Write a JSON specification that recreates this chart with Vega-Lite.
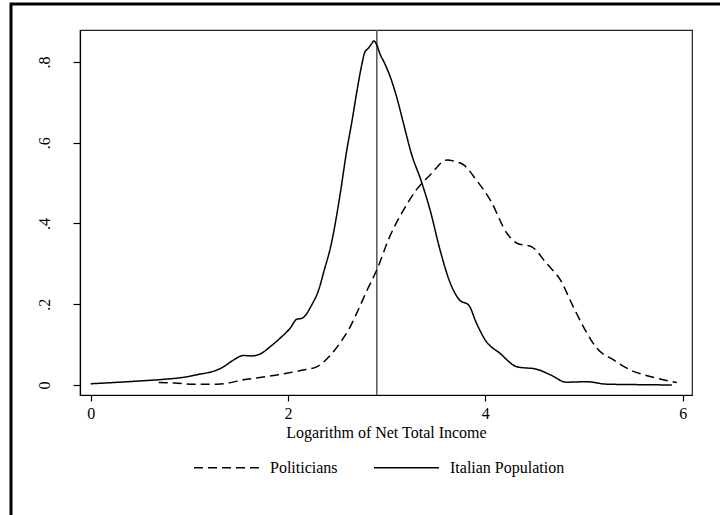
{
  "$schema": "https://vega.github.io/schema/vega-lite/v6.json",
  "width": 612,
  "height": 365,
  "autosize": {"type": "none"},
  "padding": {"left": 80, "top": 30, "right": 28, "bottom": 120},
  "background": "white",
  "config": {
    "font": "Liberation Serif, Times New Roman, serif",
    "view": {"stroke": "#222", "strokeWidth": 1.2},
    "axis": {"grid": false, "domainColor": "black", "domainWidth": 1.2, "tickColor": "black", "tickWidth": 1.2, "labelFont": "Liberation Serif, Times New Roman, serif", "titleFont": "Liberation Serif, Times New Roman, serif", "labelFontSize": 16, "titleFontSize": 16, "labelColor": "black", "titleColor": "black", "titleFontWeight": "normal"},
    "legend": {"labelFont": "Liberation Serif, Times New Roman, serif", "labelFontSize": 16, "labelColor": "black"}
  },
  "datasets": {
    "dens": [
      {"g": "Italian Population", "x": 0.00, "y": 0.003},
      {"g": "Italian Population", "x": 0.30, "y": 0.007},
      {"g": "Italian Population", "x": 0.50, "y": 0.010},
      {"g": "Italian Population", "x": 0.74, "y": 0.014},
      {"g": "Italian Population", "x": 0.94, "y": 0.019},
      {"g": "Italian Population", "x": 1.11, "y": 0.027},
      {"g": "Italian Population", "x": 1.23, "y": 0.033},
      {"g": "Italian Population", "x": 1.34, "y": 0.044},
      {"g": "Italian Population", "x": 1.43, "y": 0.059},
      {"g": "Italian Population", "x": 1.55, "y": 0.073},
      {"g": "Italian Population", "x": 1.63, "y": 0.072},
      {"g": "Italian Population", "x": 1.72, "y": 0.077},
      {"g": "Italian Population", "x": 1.82, "y": 0.095},
      {"g": "Italian Population", "x": 1.92, "y": 0.116},
      {"g": "Italian Population", "x": 2.02, "y": 0.140},
      {"g": "Italian Population", "x": 2.09, "y": 0.163},
      {"g": "Italian Population", "x": 2.14, "y": 0.165},
      {"g": "Italian Population", "x": 2.24, "y": 0.198},
      {"g": "Italian Population", "x": 2.31, "y": 0.235},
      {"g": "Italian Population", "x": 2.37, "y": 0.287},
      {"g": "Italian Population", "x": 2.43, "y": 0.340},
      {"g": "Italian Population", "x": 2.53, "y": 0.475},
      {"g": "Italian Population", "x": 2.59, "y": 0.573},
      {"g": "Italian Population", "x": 2.65, "y": 0.656},
      {"g": "Italian Population", "x": 2.70, "y": 0.730},
      {"g": "Italian Population", "x": 2.75, "y": 0.796},
      {"g": "Italian Population", "x": 2.78, "y": 0.825},
      {"g": "Italian Population", "x": 2.81, "y": 0.833},
      {"g": "Italian Population", "x": 2.85, "y": 0.846},
      {"g": "Italian Population", "x": 2.87, "y": 0.852},
      {"g": "Italian Population", "x": 2.90, "y": 0.842},
      {"g": "Italian Population", "x": 2.93, "y": 0.821},
      {"g": "Italian Population", "x": 2.98, "y": 0.796},
      {"g": "Italian Population", "x": 3.03, "y": 0.767},
      {"g": "Italian Population", "x": 3.10, "y": 0.714},
      {"g": "Italian Population", "x": 3.17, "y": 0.648},
      {"g": "Italian Population", "x": 3.25, "y": 0.573},
      {"g": "Italian Population", "x": 3.35, "y": 0.505},
      {"g": "Italian Population", "x": 3.44, "y": 0.433},
      {"g": "Italian Population", "x": 3.54, "y": 0.335},
      {"g": "Italian Population", "x": 3.64, "y": 0.255},
      {"g": "Italian Population", "x": 3.74, "y": 0.210},
      {"g": "Italian Population", "x": 3.83, "y": 0.198},
      {"g": "Italian Population", "x": 3.91, "y": 0.153},
      {"g": "Italian Population", "x": 4.00, "y": 0.111},
      {"g": "Italian Population", "x": 4.15, "y": 0.078},
      {"g": "Italian Population", "x": 4.32, "y": 0.045},
      {"g": "Italian Population", "x": 4.52, "y": 0.039},
      {"g": "Italian Population", "x": 4.66, "y": 0.025},
      {"g": "Italian Population", "x": 4.82, "y": 0.007},
      {"g": "Italian Population", "x": 5.03, "y": 0.008},
      {"g": "Italian Population", "x": 5.23, "y": 0.002},
      {"g": "Italian Population", "x": 5.50, "y": 0.001},
      {"g": "Italian Population", "x": 5.89, "y": 0.000},
      {"g": "Politicians", "x": 0.69, "y": 0.006},
      {"g": "Politicians", "x": 0.85, "y": 0.005},
      {"g": "Politicians", "x": 1.04, "y": 0.002},
      {"g": "Politicians", "x": 1.28, "y": 0.002},
      {"g": "Politicians", "x": 1.58, "y": 0.014},
      {"g": "Politicians", "x": 1.89, "y": 0.025},
      {"g": "Politicians", "x": 2.15, "y": 0.037},
      {"g": "Politicians", "x": 2.29, "y": 0.045},
      {"g": "Politicians", "x": 2.43, "y": 0.074},
      {"g": "Politicians", "x": 2.56, "y": 0.116},
      {"g": "Politicians", "x": 2.63, "y": 0.144},
      {"g": "Politicians", "x": 2.71, "y": 0.185},
      {"g": "Politicians", "x": 2.80, "y": 0.234},
      {"g": "Politicians", "x": 2.90, "y": 0.285},
      {"g": "Politicians", "x": 3.03, "y": 0.367},
      {"g": "Politicians", "x": 3.17, "y": 0.433},
      {"g": "Politicians", "x": 3.30, "y": 0.483},
      {"g": "Politicians", "x": 3.44, "y": 0.520},
      {"g": "Politicians", "x": 3.61, "y": 0.557},
      {"g": "Politicians", "x": 3.70, "y": 0.553},
      {"g": "Politicians", "x": 3.78, "y": 0.545},
      {"g": "Politicians", "x": 3.91, "y": 0.507},
      {"g": "Politicians", "x": 4.05, "y": 0.458},
      {"g": "Politicians", "x": 4.22, "y": 0.375},
      {"g": "Politicians", "x": 4.32, "y": 0.351},
      {"g": "Politicians", "x": 4.47, "y": 0.342},
      {"g": "Politicians", "x": 4.62, "y": 0.301},
      {"g": "Politicians", "x": 4.76, "y": 0.260},
      {"g": "Politicians", "x": 4.89, "y": 0.194},
      {"g": "Politicians", "x": 5.03, "y": 0.128},
      {"g": "Politicians", "x": 5.13, "y": 0.091},
      {"g": "Politicians", "x": 5.30, "y": 0.062},
      {"g": "Politicians", "x": 5.47, "y": 0.037},
      {"g": "Politicians", "x": 5.67, "y": 0.021},
      {"g": "Politicians", "x": 5.94, "y": 0.006}
    ],
    "cut": [{"x": 2.9, "k": "cutoff"}]
  },
  "layer": [
    {
      "data": {"name": "cut"},
      "mark": {"type": "rule", "strokeWidth": 1.5},
      "encoding": {
        "x": {"field": "x", "type": "quantitative"},
        "color": {"field": "k", "type": "nominal", "scale": {"range": ["#555555"]},
          "legend": {"title": null, "orient": "none", "legendX": -69, "legendY": -26, "padding": 400, "strokeColor": "black", "labelOpacity": 0, "symbolOpacity": 0, "symbolStrokeWidth": 0, "symbolSize": 1, "labelFontSize": 1,
            "encode": {"legend": {"update": {"strokeWidth": {"value": 3}}}}}}
      }
    },
    {
      "data": {"name": "dens"},
      "mark": {"type": "line", "color": "black", "strokeWidth": 1.5, "interpolate": "monotone"},
      "encoding": {
        "x": {
          "field": "x", "type": "quantitative",
          "scale": {"domain": [-0.108, 6.094], "nice": false, "zero": false},
          "axis": {"values": [0, 2, 4, 6], "format": "d", "title": "Logarithm of Net Total Income", "tickSize": 6, "labelPadding": 4, "titlePadding": 3}
        },
        "y": {
          "field": "y", "type": "quantitative",
          "scale": {"domain": [-0.0248, 0.879], "nice": false, "zero": false},
          "axis": {"values": [0, 0.2, 0.4, 0.6, 0.8], "title": null, "tickSize": 7, "labelAngle": -90, "labelAlign": "center", "labelBaseline": "bottom", "labelPadding": 21,
            "labelExpr": "datum.value == 0 ? '0' : slice(format(datum.value, '.1f'), 1)"}
        },
        "strokeDash": {
          "field": "g", "type": "nominal",
          "scale": {"domain": ["Politicians", "Italian Population"], "range": [[9, 5], [1, 0]]},
          "legend": {"title": null, "orient": "none", "direction": "horizontal", "legendX": 113, "legendY": 404, "symbolType": "stroke", "symbolSize": 4225, "symbolStrokeWidth": 1.5, "symbolStrokeColor": "black", "labelOffset": 10, "columnPadding": 33}
        },
        "detail": {"field": "g"}
      }
    }
  ]
}
